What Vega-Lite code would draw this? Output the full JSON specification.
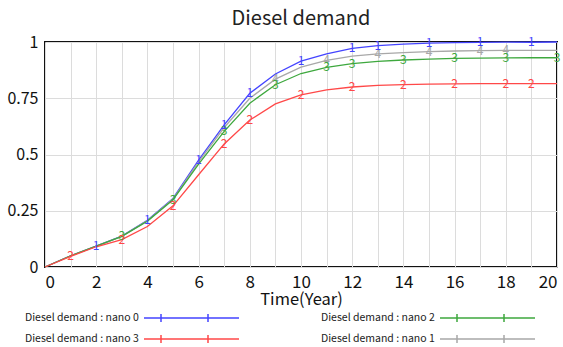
{
  "$schema": "https://vega.github.io/schema/vega-lite/v6.json",
  "autosize": {"type": "none"},
  "width": 512,
  "height": 225,
  "padding": {"left": 45, "top": 42, "right": 6, "bottom": 80},
  "background": "white",
  "title": {"text": "Diesel demand", "fontSize": 20, "fontWeight": "normal", "font": "Noto Sans CJK KR", "color": "#222", "offset": 5},
  "config": {
    "font": "Noto Sans CJK KR",
    "view": {"stroke": "#111", "strokeWidth": 2},
    "axis": {"domain": false, "ticks": false, "gridColor": "#dcdcdc", "gridWidth": 1, "labelFontSize": 16, "labelColor": "#111", "labelFont": "Noto Sans CJK KR", "titleFont": "Noto Sans CJK KR"}
  },
  "datasets": {
    "series": [
      {"t":0,"s":"nano 0","v":0},{"t":1,"s":"nano 0","v":0.05},{"t":2,"s":"nano 0","v":0.093},{"t":3,"s":"nano 0","v":0.137},{"t":4,"s":"nano 0","v":0.208},{"t":5,"s":"nano 0","v":0.305},{"t":6,"s":"nano 0","v":0.475},{"t":7,"s":"nano 0","v":0.632},{"t":8,"s":"nano 0","v":0.772},{"t":9,"s":"nano 0","v":0.858},{"t":10,"s":"nano 0","v":0.915},{"t":11,"s":"nano 0","v":0.947},{"t":12,"s":"nano 0","v":0.972},{"t":13,"s":"nano 0","v":0.984},{"t":14,"s":"nano 0","v":0.991},{"t":15,"s":"nano 0","v":0.995},{"t":16,"s":"nano 0","v":0.997},{"t":17,"s":"nano 0","v":0.998},{"t":18,"s":"nano 0","v":0.999},{"t":19,"s":"nano 0","v":0.999},{"t":20,"s":"nano 0","v":1.0},
      {"t":0,"s":"nano 1","v":0},{"t":1,"s":"nano 1","v":0.05},{"t":2,"s":"nano 1","v":0.093},{"t":3,"s":"nano 1","v":0.136},{"t":4,"s":"nano 1","v":0.206},{"t":5,"s":"nano 1","v":0.302},{"t":6,"s":"nano 1","v":0.467},{"t":7,"s":"nano 1","v":0.62},{"t":8,"s":"nano 1","v":0.75},{"t":9,"s":"nano 1","v":0.835},{"t":10,"s":"nano 1","v":0.888},{"t":11,"s":"nano 1","v":0.918},{"t":12,"s":"nano 1","v":0.937},{"t":13,"s":"nano 1","v":0.947},{"t":14,"s":"nano 1","v":0.953},{"t":15,"s":"nano 1","v":0.957},{"t":16,"s":"nano 1","v":0.96},{"t":17,"s":"nano 1","v":0.962},{"t":18,"s":"nano 1","v":0.963},{"t":19,"s":"nano 1","v":0.963},{"t":20,"s":"nano 1","v":0.963},
      {"t":0,"s":"nano 2","v":0},{"t":1,"s":"nano 2","v":0.05},{"t":2,"s":"nano 2","v":0.093},{"t":3,"s":"nano 2","v":0.136},{"t":4,"s":"nano 2","v":0.204},{"t":5,"s":"nano 2","v":0.299},{"t":6,"s":"nano 2","v":0.457},{"t":7,"s":"nano 2","v":0.603},{"t":8,"s":"nano 2","v":0.728},{"t":9,"s":"nano 2","v":0.81},{"t":10,"s":"nano 2","v":0.86},{"t":11,"s":"nano 2","v":0.887},{"t":12,"s":"nano 2","v":0.904},{"t":13,"s":"nano 2","v":0.914},{"t":14,"s":"nano 2","v":0.92},{"t":15,"s":"nano 2","v":0.924},{"t":16,"s":"nano 2","v":0.927},{"t":17,"s":"nano 2","v":0.928},{"t":18,"s":"nano 2","v":0.929},{"t":19,"s":"nano 2","v":0.93},{"t":20,"s":"nano 2","v":0.93},
      {"t":0,"s":"nano 3","v":0},{"t":1,"s":"nano 3","v":0.047},{"t":2,"s":"nano 3","v":0.09},{"t":3,"s":"nano 3","v":0.122},{"t":4,"s":"nano 3","v":0.18},{"t":5,"s":"nano 3","v":0.272},{"t":6,"s":"nano 3","v":0.41},{"t":7,"s":"nano 3","v":0.547},{"t":8,"s":"nano 3","v":0.653},{"t":9,"s":"nano 3","v":0.725},{"t":10,"s":"nano 3","v":0.765},{"t":11,"s":"nano 3","v":0.787},{"t":12,"s":"nano 3","v":0.8},{"t":13,"s":"nano 3","v":0.807},{"t":14,"s":"nano 3","v":0.811},{"t":15,"s":"nano 3","v":0.813},{"t":16,"s":"nano 3","v":0.814},{"t":17,"s":"nano 3","v":0.815},{"t":18,"s":"nano 3","v":0.815},{"t":19,"s":"nano 3","v":0.815},{"t":20,"s":"nano 3","v":0.815}
    ],
    "markers": [
      {"s":"nano 1","d":"4","t":9,"v":0.835},{"s":"nano 1","d":"4","t":11,"v":0.918},{"s":"nano 1","d":"4","t":13,"v":0.947},{"s":"nano 1","d":"4","t":15,"v":0.957},{"s":"nano 1","d":"4","t":17,"v":0.962},{"s":"nano 1","d":"4","t":18,"v":0.963},
      {"s":"nano 2","d":"3","t":3,"v":0.136},{"s":"nano 2","d":"3","t":5,"v":0.299},{"s":"nano 2","d":"3","t":7,"v":0.603},{"s":"nano 2","d":"3","t":9,"v":0.81},{"s":"nano 2","d":"3","t":11,"v":0.887},{"s":"nano 2","d":"3","t":12,"v":0.904},{"s":"nano 2","d":"3","t":14,"v":0.92},{"s":"nano 2","d":"3","t":16,"v":0.927},{"s":"nano 2","d":"3","t":18,"v":0.929},{"s":"nano 2","d":"3","t":20,"v":0.93},
      {"s":"nano 3","d":"2","t":1,"v":0.047},{"s":"nano 3","d":"2","t":3,"v":0.122},{"s":"nano 3","d":"2","t":5,"v":0.272},{"s":"nano 3","d":"2","t":7,"v":0.547},{"s":"nano 3","d":"2","t":8,"v":0.653},{"s":"nano 3","d":"2","t":10,"v":0.765},{"s":"nano 3","d":"2","t":12,"v":0.8},{"s":"nano 3","d":"2","t":14,"v":0.811},{"s":"nano 3","d":"2","t":16,"v":0.814},{"s":"nano 3","d":"2","t":18,"v":0.815},{"s":"nano 3","d":"2","t":19,"v":0.815},
      {"s":"nano 0","d":"1","t":2,"v":0.093},{"s":"nano 0","d":"1","t":4,"v":0.208},{"s":"nano 0","d":"1","t":6,"v":0.475},{"s":"nano 0","d":"1","t":7,"v":0.632},{"s":"nano 0","d":"1","t":8,"v":0.772},{"s":"nano 0","d":"1","t":10,"v":0.915},{"s":"nano 0","d":"1","t":12,"v":0.972},{"s":"nano 0","d":"1","t":13,"v":0.984},{"s":"nano 0","d":"1","t":15,"v":0.995},{"s":"nano 0","d":"1","t":17,"v":0.998},{"s":"nano 0","d":"1","t":19,"v":0.999}
    ]
  },
  "encoding": {
    "x": {"field": "t", "type": "quantitative", "scale": {"domain": [0, 20], "nice": false},
      "axis": {"values": [0,1,2,3,4,5,6,7,8,9,10,11,12,13,14,15,16,17,18,19,20], "labelExpr": "datum.value % 2 == 0 ? datum.label : ''", "labelPadding": 7, "labelFontSize": 17, "title": "Time(Year)", "titleFontSize": 16.5, "titleFontWeight": "normal", "titleColor": "#111", "titlePadding": 1}},
    "y": {"field": "v", "type": "quantitative", "scale": {"domain": [0, 1], "nice": false},
      "axis": {"values": [0, 0.25, 0.5, 0.75, 1], "format": ".2~f", "labelPadding": 7, "title": null}},
    "color": {"field": "s", "type": "nominal",
      "scale": {"domain": ["nano 0", "nano 2", "nano 3", "nano 1"], "range": ["#4444ff", "#3ea83e", "#ff4848", "#a8a8a8"]},
      "legend": {"orient": "none", "legendX": -22, "legendY": 270, "columns": 2, "direction": "horizontal", "title": null,
        "symbolType": "M23,0H42M26.4,-0.8V0.8M35.8,-0.8V0.8", "symbolSize": 100, "symbolStrokeWidth": 1.5, "symbolFillColor": "transparent",
        "labelExpr": "'Diesel demand : ' + datum.label", "labelFontSize": 10.5, "labelColor": "#222",
        "labelOffset": -10, "columnPadding": 77, "rowPadding": 7}}
  },
  "layer": [
    {"data": {"name": "series"}, "mark": {"type": "line", "strokeWidth": 1.3}},
    {"data": {"name": "markers"}, "mark": {"type": "text", "fontSize": 12, "baseline": "middle", "align": "center"},
      "encoding": {"text": {"field": "d"}}}
  ]
}
